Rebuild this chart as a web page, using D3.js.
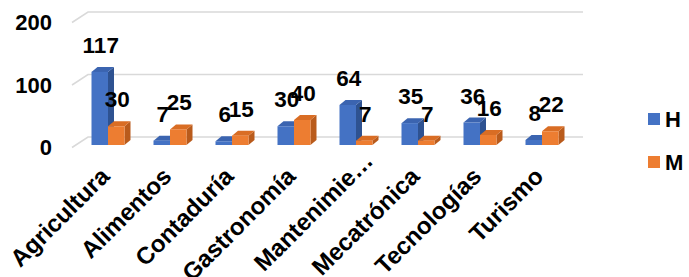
<!DOCTYPE html>
<html>
<head>
<meta charset="utf-8">
<script src="https://cdn.jsdelivr.net/npm/d3@7"></script>
<style>
  body { margin: 0; background: #fff; }
  text { font-family: "Liberation Sans", Arial, sans-serif; font-weight: bold; fill: #000; }
</style>
</head>
<body>
<script>
var categories = ["Agricultura", "Alimentos", "Contaduría", "Gastronomía", "Mantenimie…", "Mecatrónica", "Tecnologías", "Turismo"];
var seriesNames = ["H", "M"];
var valuesH = [117, 7, 6, 30, 64, 35, 36, 8];
var valuesM = [30, 25, 15, 40, 7, 7, 16, 22];
var yTicks = [0, 100, 200];

var w = 689, h = 277;
var depth = { dx: 6, dy: -5 };
var colors = {
  H: { front: "#4472C4", top: "#3B64B0", side: "#2E5291" },
  M: { front: "#ED7D31", top: "#D96D24", side: "#B95B1C" }
};

var svg = d3.select("body").append("svg").attr("width", w).attr("height", h);

var x = d3.scaleBand().domain(categories).range([77, 573]);
var y = d3.scaleLinear().domain([0, 200]).range([145, 20]);
var barW = 16.5;

// gridlines on the back wall, with a short slanted piece on the side wall
var grid = svg.append("g");
yTicks.forEach(function (t) {
  grid.append("path")
    .attr("d", "M72," + (y(t) + 2.5) + "L88," + (y(t) - 8) + "L583," + (y(t) - 8))
    .attr("fill", "none")
    .attr("stroke", "#d9d9d9")
    .attr("stroke-width", 1.5);
});

svg.append("g").selectAll("text")
  .data(yTicks)
  .enter()
  .append("text")
  .attr("x", 52)
  .attr("y", function (d) { return y(d) + 2.5; })
  .attr("dy", "0.35em")
  .attr("text-anchor", "end")
  .attr("font-size", "22px")
  .text(function (d) { return d; });

var data = [];
categories.forEach(function (c, i) {
  data.push({ cat: c, s: "H", v: valuesH[i], x0: x(c) + x.bandwidth() / 2 - barW });
  data.push({ cat: c, s: "M", v: valuesM[i], x0: x(c) + x.bandwidth() / 2 });
});

var bars = svg.append("g").selectAll("g")
  .data(data)
  .enter()
  .append("g");

bars.append("path")
  .attr("fill", function (d) { return colors[d.s].side; })
  .attr("d", function (d) {
    var x1 = d.x0 + barW, yt = y(d.v), yb = y(0);
    return "M" + x1 + "," + yb + "L" + (x1 + depth.dx) + "," + (yb + depth.dy) +
      "L" + (x1 + depth.dx) + "," + (yt + depth.dy) + "L" + x1 + "," + yt + "Z";
  });

bars.append("path")
  .attr("fill", function (d) { return colors[d.s].top; })
  .attr("d", function (d) {
    var x1 = d.x0 + barW, yt = y(d.v);
    return "M" + d.x0 + "," + yt + "L" + (d.x0 + depth.dx) + "," + (yt + depth.dy) +
      "L" + (x1 + depth.dx) + "," + (yt + depth.dy) + "L" + x1 + "," + yt + "Z";
  });

bars.append("rect")
  .attr("x", function (d) { return d.x0; })
  .attr("y", function (d) { return y(d.v); })
  .attr("width", barW)
  .attr("height", function (d) { return y(0) - y(d.v); })
  .attr("fill", function (d) { return colors[d.s].front; });

// value labels
svg.append("g").selectAll("text")
  .data(data)
  .enter()
  .append("text")
  .attr("x", function (d) { return d.x0 + barW / 2 + 1; })
  .attr("y", function (d) { return y(d.v) - 19; })
  .attr("text-anchor", "middle")
  .attr("font-size", "22.5px")
  .text(function (d) { return d.v; });

// category labels; a truncated label lets its ellipsis stick out past the tick
var catG = svg.append("g");
var probe = catG.append("text").attr("font-size", "24px").text("…");
var ellW = probe.node().getComputedTextLength();
probe.remove();

catG.selectAll("text.cat")
  .data(categories)
  .enter()
  .append("text")
  .attr("class", "cat")
  .attr("transform", function (d) {
    return "translate(" + (x(d) + x.bandwidth() / 2 - 6) + ",169) rotate(-45)";
  })
  .attr("dx", function (d) { return d.slice(-1) === "…" ? ellW - 2 : 0; })
  .attr("dy", "0.52em")
  .attr("text-anchor", "end")
  .attr("font-size", "24px")
  .text(function (d) { return d; });

// legend
var legend = svg.append("g").selectAll("g")
  .data(seriesNames)
  .enter()
  .append("g")
  .attr("transform", function (d, i) { return "translate(648," + (113 + i * 43) + ")"; });

legend.append("rect")
  .attr("width", 12)
  .attr("height", 12)
  .attr("fill", function (d) { return colors[d].front; });

legend.append("text")
  .attr("x", 17)
  .attr("y", 6)
  .attr("dy", "0.36em")
  .attr("font-size", "22px")
  .text(function (d) { return d; });
</script>
</body>
</html>
